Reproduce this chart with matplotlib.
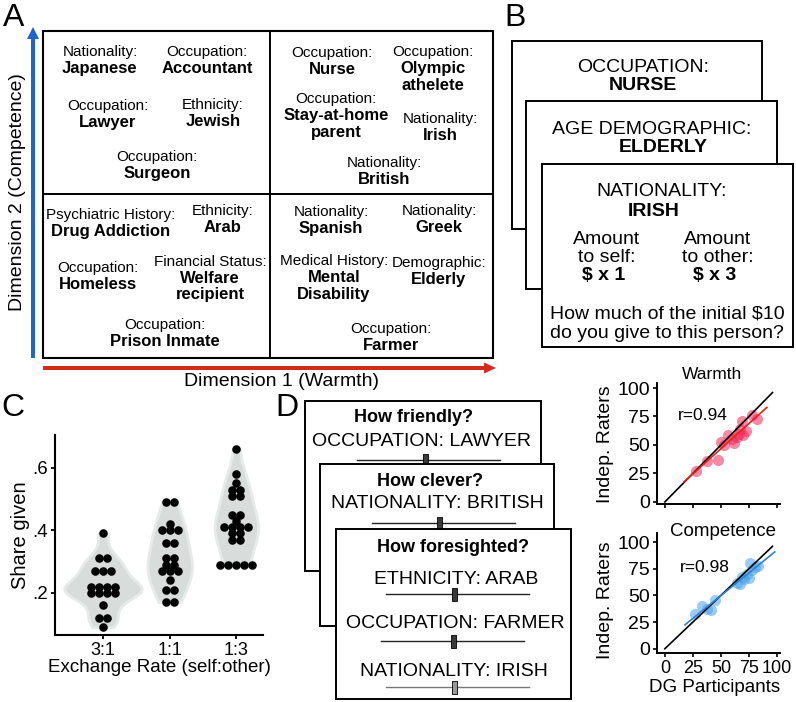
import numpy as np
import matplotlib
matplotlib.use("Agg")
import matplotlib.pyplot as plt
from matplotlib.patches import Rectangle, FancyArrow

plt.rcParams['font.family'] = ['Liberation Sans', 'DejaVu Sans']

# --- Panel A: target groups in the warmth x competence space ---
a_traits = ["Nationality:", "Occupation:", "Occupation:", "Ethnicity:", "Occupation:",
            "Occupation:", "Occupation:", "Occupation:", "Nationality:", "Nationality:",
            "Psychiatric History:", "Ethnicity:", "Occupation:", "Financial Status:", "Occupation:",
            "Nationality:", "Nationality:", "Medical History:", "Demographic:", "Occupation:"]
a_groups = ["Japanese", "Accountant", "Lawyer", "Jewish", "Surgeon",
            "Nurse", "Olympic\nathelete", "Stay-at-home\nparent", "Irish", "British",
            "Drug Addiction", "Arab", "Homeless", "Welfare\nrecipient", "Prison Inmate",
            "Spanish", "Greek", "Mental\nDisability", "Elderly", "Farmer"]
a_xlabel = "Dimension 1 (Warmth)"
a_ylabel = "Dimension 2 (Competence)"

# --- Panel B: dictator game cards ---
b_cards = [("OCCUPATION:", "NURSE"), ("AGE DEMOGRAPHIC:", "ELDERLY"), ("NATIONALITY:", "IRISH")]
b_rates = [(["Amount", "to self:"], r"\$ x 1"), (["Amount", "to other:"], r"\$ x 3")]
b_question = ["How much of the initial \\$10", "do you give to this person?"]

# --- Panel C: share given per exchange rate ---
rate_labels = ["3:1", "1:1", "1:3"]
share_3to1 = [0.39, 0.31, 0.31, 0.27, 0.27, 0.27, 0.22, 0.22, 0.22, 0.22,
              0.20, 0.20, 0.20, 0.20, 0.16, 0.12, 0.12, 0.09]
share_1to1 = [0.49, 0.49, 0.42, 0.40, 0.40, 0.40, 0.36, 0.36, 0.31, 0.31,
              0.29, 0.29, 0.27, 0.27, 0.27, 0.24, 0.21, 0.21, 0.17, 0.17]
share_1to3 = [0.66, 0.58, 0.55, 0.53, 0.53, 0.51, 0.51, 0.45, 0.45, 0.43,
              0.41, 0.41, 0.41, 0.41, 0.39, 0.39, 0.37, 0.37, 0.29, 0.29, 0.29, 0.29, 0.29]

# --- Panel D: rating cards and validation scatter ---
d_questions = ["How friendly?", "How clever?", "How foresighted?"]
d_items = [["OCCUPATION: LAWYER"], ["NATIONALITY: BRITISH"],
           ["ETHNICITY: ARAB", "OCCUPATION: FARMER", "NATIONALITY: IRISH"]]
slider_values = [[0.48], [0.47], [0.48, 0.51, 0.48]]

warmth_dg = [28, 38, 47, 50, 53, 56, 60, 62, 64, 66, 67, 69, 70, 72, 78, 82]
warmth_raters = [27, 36, 37, 53, 50, 59, 55, 52, 57, 60, 64, 71, 59, 62, 76, 73]
warmth_r = 0.94
warmth_fit_span = [17, 91]
competence_dg = [27, 33, 38, 41, 45, 64, 67, 69, 71, 73, 75, 76, 78, 80, 83]
competence_raters = [33, 40, 37, 36, 46, 62, 61, 67, 65, 70, 66, 80, 74, 77, 78]
competence_r = 0.98
competence_fit_span = [18, 98]
identity_span = [0, 96]
scale_ticks = [0, 25, 50, 75, 100]

W, H = 796, 702
fig = plt.figure(figsize=(W / 100, H / 100), dpi=100)

# background canvas in pixel coordinates
bg = fig.add_axes([0, 0, 1, 1])
bg.set_xlim(0, W)
bg.set_ylim(H, 0)
bg.axis('off')


def box(ax, x0, y0, x1, y1, lw=1.4, z=1):
    ax.add_patch(Rectangle((x0, y0), x1 - x0, y1 - y0, facecolor='white',
                           edgecolor='black', lw=lw, zorder=z))


def letter(ax, x, y, s):
    ax.text(x, y, s, fontsize=23, ha='center', va='center')


# ---------------- A ----------------
letter(bg, 14, 18, "A")
box(bg, 43, 31, 493, 358, lw=1.5)
bg.plot([270, 270], [31, 358], color='black', lw=1.4, zorder=2)
bg.plot([43, 493], [194, 194], color='black', lw=1.4, zorder=2)
bg.add_patch(FancyArrow(33, 358, 0, -331, width=4, head_width=12, head_length=12,
                        length_includes_head=True, color='#2563cc', lw=0))
bg.add_patch(FancyArrow(43, 368, 453, 0, width=4, head_width=11, head_length=12,
                        length_includes_head=True, color='#d42a1e', lw=0))
bg.text(18, 192, a_ylabel, rotation=90, fontsize=14, ha='center', va='center')
bg.text(282, 382, a_xlabel, fontsize=14, ha='center', va='center')

a_xy = [(100, 52), (207, 52), (108, 106), (213, 105), (157, 157),
        (332, 53), (433, 52), (336, 99), (440, 119), (384, 163),
        (111, 215), (223, 211), (98, 268), (210, 262), (165, 325),
        (331, 212), (439, 211), (334, 261), (439, 263), (391, 329)]
for trait, group, (x, y) in zip(a_traits, a_groups, a_xy):
    bg.text(x, y, trait, fontsize=11, ha='center', va='center', zorder=3)
    for k, line in enumerate(group.split("\n")):
        bg.text(x, y + 16.5 * (k + 1), line, fontsize=12,
                fontweight='bold', ha='center', va='center', zorder=3)

# ---------------- B ----------------
letter(bg, 515, 18, "B")
b_rects = [(512, 41, 762, 229), (526, 101, 777, 289), (542, 164, 793, 347)]
b_text_xy = [((643, 68), (643, 86)), ((652, 129), (663, 148)), ((662, 192), (654, 212))]
for z, (rect, (title, value), (p1, p2)) in enumerate(zip(b_rects, b_cards, b_text_xy)):
    box(bg, *rect, z=2 + z)
    bg.text(*p1, title, fontsize=14, ha='center', va='center', zorder=2 + z)
    bg.text(*p2, value, fontsize=14, fontweight='bold', ha='center', va='center', zorder=2 + z)
for (lines, amount), x in zip(b_rates, [607, 718]):
    for k, line in enumerate(lines):
        bg.text(x, 240 + 18 * k, line, fontsize=14, ha='center', va='center', zorder=6)
    bg.text(x - 3, 276, amount, fontsize=14, fontweight='bold', ha='center', va='center', zorder=6)
for k, line in enumerate(b_question):
    bg.text(667, 314 + 19 * k, line, fontsize=14, ha='center', va='center', zorder=6)

# ---------------- C ----------------
letter(bg, 13, 408, "C")
axc = fig.add_axes([55 / W, 1 - 635 / H, 208 / W, 200 / H])
groups = [np.array(share_3to1), np.array(share_1to1), np.array(share_1to3)]


def nrd0(v):
    iqr = np.subtract(*np.percentile(v, [75, 25]))
    return 0.9 * min(v.std(ddof=1), iqr / 1.34) * len(v) ** -0.2


curves = []
for v in groups:
    grid = np.linspace(v.min(), v.max(), 200)
    bw = nrd0(v) * 1.15
    dens = np.exp(-0.5 * ((grid[:, None] - v[None, :]) / bw) ** 2).sum(1) / (len(v) * bw * np.sqrt(2 * np.pi))
    curves.append((grid, dens))
peak = max(d.max() for _, d in curves)
for i, (grid, dens) in enumerate(curves):
    half = dens / peak * 0.58
    axc.fill_betweenx(grid, i - half, i + half, facecolor='#d8dcdb',
                      edgecolor='#e7eaea', lw=2, zorder=1)
for i, v in enumerate(groups):
    vals, counts = np.unique(v, return_counts=True)
    for val, n in zip(vals, counts):
        xs = i + (np.arange(n) - (n - 1) / 2) * 0.12
        axc.scatter(xs, np.full(n, val), s=38, color='black', lw=0, zorder=3)
axc.set_xlim(-0.72, 2.4)
axc.set_ylim(0.065, 0.705)
axc.set_xticks(range(3))
axc.set_xticklabels(rate_labels, fontsize=13)
axc.set_yticks([0.2, 0.4, 0.6])
axc.set_yticklabels(['.2', '.4', '.6'], fontsize=13.5)
axc.tick_params(length=3, width=1.3, pad=2)
for s in ['top', 'right']:
    axc.spines[s].set_visible(False)
for s in ['left', 'bottom']:
    axc.spines[s].set_linewidth(1.5)
axc.set_ylabel("Share given", fontsize=14.5, labelpad=2)
axc.set_xlabel("Exchange Rate (self:other)", fontsize=13.5, labelpad=0)

# ---------------- D cards ----------------
letter(bg, 287, 408, "D")
d_rects = [(305, 401, 541, 571), (320, 464, 554, 626), (336, 529, 571, 699)]
d_q_xy = [(414, 417), (430, 482), (453, 547)]
d_item_xy = [[(421, 441)], [(437, 503)], [(456, 579), (455, 623), (454, 672)]]
d_slider = [[(357, 500, 460)], [(372, 515, 523)],
            [(386, 529, 594), (381, 524, 641), (386, 529, 687)]]
for z, rect in enumerate(d_rects):
    zz = 2 + z
    box(bg, *rect, z=zz)
    bg.text(*d_q_xy[z], d_questions[z], fontsize=13, fontweight='bold',
            ha='center', va='center', zorder=zz)
    for item, xy, (sx0, sx1, sy), val in zip(d_items[z], d_item_xy[z], d_slider[z], slider_values[z]):
        last = (z == 2 and item == d_items[2][-1])
        lc = '#777777' if last else '#222222'
        hc = '#9a9a9a' if last else '#3a3a3a'
        bg.text(*xy, item, fontsize=14, ha='center', va='center', zorder=zz)
        bg.plot([sx0, sx1], [sy, sy], color=lc, lw=1.0, zorder=zz)
        hx = sx0 + val * (sx1 - sx0)
        bg.add_patch(Rectangle((hx - 2.5, sy - 6.5), 5, 13, facecolor=hc,
                               edgecolor='black', lw=0.6, zorder=zz))

# ---------------- D scatter ----------------
def scatter_panel(rect, dg, raters, r, span, title, title_xy, txt_xy, pcol, lcol, ylim, tsize):
    ax = fig.add_axes(rect)
    dg = np.array(dg)
    raters = np.array(raters)
    ax.scatter(dg, raters, s=64, color=pcol, alpha=0.55, lw=0, zorder=2)
    ax.plot(identity_span, identity_span, color='black', lw=1.2, zorder=3)
    slope, icpt = np.polyfit(dg, raters, 1)
    fx = np.array(span)
    ax.plot(fx, icpt + slope * fx, color=lcol, lw=1.2, zorder=3)
    ax.set_xlim(-7, 102.7)
    ax.set_ylim(*ylim)
    ax.set_xticks(scale_ticks)
    ax.set_yticks(scale_ticks)
    ax.set_xticklabels([str(t) for t in scale_ticks], fontsize=13)
    ax.set_yticklabels([str(t) for t in scale_ticks], fontsize=14)
    ax.tick_params(length=3, width=1.2, pad=2)
    for s in ['top', 'right']:
        ax.spines[s].set_visible(False)
    for s in ['left', 'bottom']:
        ax.spines[s].set_linewidth(1.4)
    ax.text(*title_xy, title, transform=ax.transAxes, fontsize=tsize, ha='center', va='center')
    ax.text(*txt_xy, f"r={r:.2f}", transform=ax.transAxes, fontsize=12.5, ha='center', va='center')
    return ax


axw = scatter_panel([657 / W, 1 - 504 / H, 123 / W, 121 / H], warmth_dg, warmth_raters,
                    warmth_r, warmth_fit_span, "Warmth", (0.45, 1.07), (0.37, 0.735),
                    '#f0285a', '#e8201a', (-1.8, 104.4), 12.5)
axw.set_xticklabels([])
axk = scatter_panel([657 / W, 1 - 653 / H, 123 / W, 120 / H], competence_dg, competence_raters,
                    competence_r, competence_fit_span, "Competence", (0.54, 1.01), (0.39, 0.71),
                    '#4aa2ea', '#2f80d0', (-4, 108.5), 13.5)
bg.text(606, 444, "Indep. Raters", rotation=90, fontsize=14, ha='center', va='center')
bg.text(606, 600, "Indep. Raters", rotation=90, fontsize=14, ha='center', va='center')
bg.text(715, 688, "DG Participants", fontsize=13.5, ha='center', va='center')

fig.savefig("out.png", dpi=100)
